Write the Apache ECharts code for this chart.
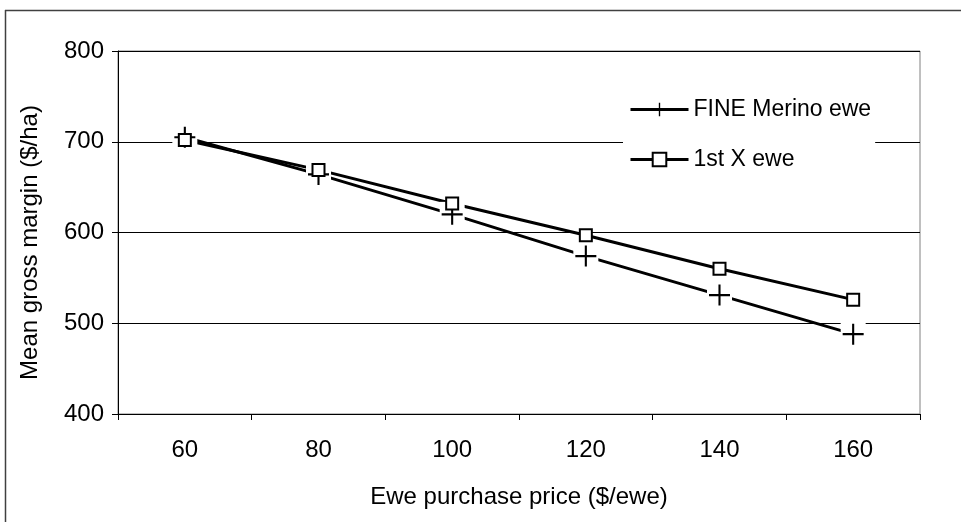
<!DOCTYPE html>
<html>
<head>
<meta charset="utf-8">
<script src="https://cdn.jsdelivr.net/npm/echarts@6/dist/echarts.min.js"></script>
<style>
  html, body { margin: 0; padding: 0; background: #fff; }
  #chart { width: 961px; height: 522px; }
</style>
</head>
<body>
<div id="chart"></div>
<script>
// Ewe purchase price categories ($/ewe)
const prices = ['60', '80', '100', '120', '140', '160'];
// Mean gross margin ($/ha) for each ewe type
const fineMerino = [705, 664, 620, 574, 531, 488];
const firstCross = [702, 669, 632, 597, 560, 526];
const seriesNames = ['FINE Merino ewe', '1st X ewe'];
const yTicks = { min: 400, max: 800, step: 100 };

const FONT = '"Liberation Sans", Arial, sans-serif';
// plus marker drawn as a filled cross
const PLUS = 'path://M9,0H11V9H20V11H11V20H9V11H0V9H9Z';

const chart = echarts.init(document.getElementById('chart'), null, { renderer: 'canvas' });

chart.setOption({
  animation: false,
  backgroundColor: '#fff',
  textStyle: { fontFamily: FONT, color: '#000' },
  grid: {
    left: 118, right: 41, top: 51, bottom: 108,
    show: true, borderColor: '#808080', borderWidth: 1
  },
  legend: {
    data: seriesNames,
    orient: 'vertical',
    left: 623, top: 93,
    padding: [5, 4, 5, 6],
    backgroundColor: '#fff',
    itemWidth: 58, itemHeight: 17,
    itemGap: 27,
    lineStyle: { width: 3, color: '#000' },
    textStyle: { fontFamily: FONT, fontSize: 23, color: '#000' }
  },
  xAxis: {
    type: 'category',
    data: prices,
    boundaryGap: true,
    name: 'Ewe purchase price ($/ewe)',
    nameLocation: 'middle',
    nameGap: 71,
    nameTextStyle: { fontFamily: FONT, fontSize: 24, color: '#000' },
    axisLine: { lineStyle: { color: '#000', width: 1 } },
    axisTick: { show: true, length: 6, lineStyle: { color: '#000' } },
    axisLabel: { margin: 24, fontFamily: FONT, fontSize: 24, color: '#000' },
    splitLine: { show: false }
  },
  yAxis: {
    type: 'value',
    min: yTicks.min, max: yTicks.max, interval: yTicks.step,
    name: 'Mean gross margin ($/ha)',
    nameLocation: 'middle',
    nameGap: 76,
    nameTextStyle: { fontFamily: FONT, fontSize: 24, color: '#000', padding: [0, 20, 0, 0] },
    axisLine: { show: true, lineStyle: { color: '#000', width: 1 } },
    axisTick: { show: true, length: 6, lineStyle: { color: '#000' } },
    axisLabel: { margin: 14, fontFamily: FONT, fontSize: 24, color: '#000' },
    splitLine: { show: true, lineStyle: { color: '#000', width: 1 } }
  },
  series: [
    {
      name: seriesNames[0], type: 'line', data: fineMerino, z: 2,
      symbol: PLUS, symbolSize: 21, showSymbol: false,
      lineStyle: { color: '#000', width: 3 },
      itemStyle: { color: '#000' },
      emphasis: { disabled: true }
    },
    {
      name: seriesNames[1], type: 'line', data: firstCross, z: 2,
      symbol: 'rect', symbolSize: 12, showSymbol: false,
      lineStyle: { color: '#000', width: 3 },
      itemStyle: { color: '#fff', borderColor: '#000', borderWidth: 2 },
      emphasis: { disabled: true }
    },
    // white clearing behind each plus marker
    {
      name: 'plus-clear', type: 'scatter', data: fineMerino, z: 3,
      symbol: 'rect', symbolSize: 25, silent: true,
      itemStyle: { color: '#fff', opacity: 1 }
    },
    {
      name: 'plus-mark', type: 'scatter', data: fineMerino, z: 4,
      symbol: PLUS, symbolSize: 21, silent: true,
      itemStyle: { color: '#000', opacity: 1 }
    },
    {
      name: 'square-mark', type: 'scatter', data: firstCross, z: 5,
      symbol: 'rect', symbolSize: 12, silent: true,
      itemStyle: { color: '#fff', borderColor: '#000', borderWidth: 2, opacity: 1 }
    }
  ],
  graphic: [
    { type: 'line', shape: { x1: 5, y1: 10.5, x2: 961, y2: 10.5 }, style: { stroke: '#404040', lineWidth: 1.5 }, silent: true },
    { type: 'line', shape: { x1: 5.5, y1: 10, x2: 5.5, y2: 522 }, style: { stroke: '#404040', lineWidth: 1.5 }, silent: true }
  ]
});
</script>
</body>
</html>
